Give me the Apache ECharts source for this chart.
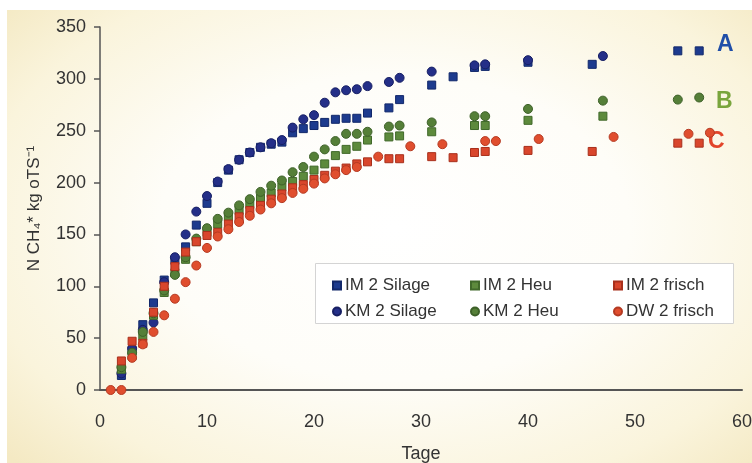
<!DOCTYPE html>
<html>
<head>
<meta charset="utf-8">
<script src="https://cdn.jsdelivr.net/npm/echarts@6/dist/echarts.min.js"></script>
<style>
  html, body { margin: 0; padding: 0; background: #fff; }
  #bg {
    position: absolute; left: 7px; top: 10px; width: 745px; height: 453px;
    background: radial-gradient(ellipse 70% 75% at 52% 48%, #ffffff 0%, #fefdf8 45%, #faf4dc 80%, #f4e9c3 100%);
  }
  #chart { position: absolute; left: 0; top: 0; width: 752px; height: 463px; }
</style>
</head>
<body>
<div id="bg"></div>
<div id="chart"></div>
<script>
// Tage / N CH4 per kg oTS
const imSilageDays = [2, 3, 4, 5, 6, 7, 8, 9, 10, 11, 12, 13, 14, 15, 16, 17, 18, 19, 20, 21, 22, 23, 24, 25, 27, 28, 31, 33, 35, 36, 40, 46, 54, 56]
const imSilageVals = [14, 38, 63, 84, 106, 125, 138, 159, 180, 200, 212, 222, 229, 234, 237, 239, 248, 252, 255, 258, 261, 262, 262, 267, 272, 280, 294, 302, 311, 312, 316, 314, 327, 327]

const kmSilageDays = [2, 3, 4, 5, 6, 7, 8, 9, 10, 11, 12, 13, 14, 15, 16, 17, 18, 19, 20, 21, 22, 23, 24, 25, 27, 28, 31, 35, 36, 40, 47]
const kmSilageVals = [16, 40, 58, 65, 104, 128, 150, 172, 187, 201, 213, 222, 229, 234, 238, 241, 253, 261, 265, 277, 287, 289, 290, 293, 297, 301, 307, 313, 314, 318, 322]

const imHeuDays = [2, 3, 4, 5, 6, 7, 8, 9, 10, 11, 12, 13, 14, 15, 16, 17, 18, 19, 20, 21, 22, 23, 24, 25, 27, 28, 31, 35, 36, 40, 47]
const imHeuVals = [20, 33, 52, 72, 94, 113, 126, 143, 152, 160, 167, 173, 179, 185, 190, 196, 201, 206, 212, 218, 226, 232, 235, 241, 244, 245, 249, 255, 255, 260, 264]

const kmHeuDays = [2, 3, 4, 5, 6, 7, 8, 9, 10, 11, 12, 13, 14, 15, 16, 17, 18, 19, 20, 21, 22, 23, 24, 25, 27, 28, 31, 35, 36, 40, 47, 54, 56]
const kmHeuVals = [22, 36, 56, 74, 96, 111, 128, 146, 156, 165, 171, 178, 184, 191, 197, 202, 210, 215, 225, 232, 240, 247, 247, 249, 254, 255, 258, 264, 264, 271, 279, 280, 282]

const imFrischDays = [2, 3, 4, 5, 6, 7, 8, 9, 10, 11, 12, 13, 14, 15, 16, 17, 18, 19, 20, 21, 22, 23, 24, 25, 27, 28, 31, 33, 35, 36, 40, 46, 54, 56]
const imFrischVals = [28, 47, 45, 75, 100, 119, 133, 143, 149, 152, 160, 167, 173, 178, 184, 189, 195, 198, 203, 207, 211, 214, 218, 220, 223, 223, 225, 224, 229, 230, 231, 230, 238, 238]

const dwFrischDays = [1, 2, 3, 4, 5, 6, 7, 8, 9, 10, 11, 12, 13, 14, 15, 16, 17, 18, 19, 20, 21, 22, 23, 24, 26, 29, 32, 36, 37, 41, 48, 55, 57]
const dwFrischVals = [0, 0, 31, 44, 56, 72, 88, 104, 120, 137, 148, 155, 162, 168, 174, 180, 185, 190, 194, 199, 204, 208, 212, 215, 225, 235, 237, 240, 240, 242, 244, 247, 248]

const xTicks = [0, 10, 20, 30, 40, 50, 60]
const yTicks = [0, 50, 100, 150, 200, 250, 300, 350]

const font = "'Liberation Sans', Arial, sans-serif"

function pairs(days, vals) {
  return days.map((d, i) => [d, vals[i]])
}

function scatter(name, days, vals, symbol, color, border) {
  return {
    name: name,
    type: 'scatter',
    symbol: symbol,
    symbolSize: symbol === 'rect' ? 8 : 9,
    data: pairs(days, vals),
    itemStyle: { color: color, borderColor: border, borderWidth: 1, opacity: 1 },
    emphasis: { disabled: true },
  }
}

function legendCol(left, names) {
  return {
    orient: 'vertical',
    left: left,
    top: 272,
    itemWidth: 8,
    itemHeight: 8,
    itemGap: 9,
    data: names,
    textStyle: { fontFamily: font, fontSize: 17, color: '#333', padding: [0, 0, 0, -1] },
  }
}

const chart = echarts.init(document.getElementById('chart'))
const option = {
  backgroundColor: 'transparent',
  animation: false,
  grid: { left: 100, right: 10, top: 27, bottom: 73, containLabel: false, outerBoundsMode: 'none' },
  legend: [
    legendCol(327, ['IM 2 Silage', 'KM 2 Silage']),
    legendCol(465, ['IM 2 Heu', 'KM 2 Heu']),
    legendCol(608, ['IM 2 frisch', 'DW 2 frisch']),
  ],
  graphic: [
    {
      type: 'rect', left: 315, top: 263, z: -1,
      shape: { width: 418, height: 60 },
      style: { fill: '#ffffff', stroke: '#d4d4d4', lineWidth: 1 },
    },
    { type: 'text', left: 717, top: 33, style: { text: 'A', fill: '#1f4ea8', font: 'bold 23px ' + font } },
    { type: 'text', left: 716, top: 90, style: { text: 'B', fill: '#79a53c', font: 'bold 23px ' + font } },
    { type: 'text', left: 708, top: 130, style: { text: 'C', fill: '#e2452a', font: 'bold 23px ' + font } },
  ],
  xAxis: {
    type: 'value',
    min: xTicks[0],
    max: xTicks[xTicks.length - 1],
    interval: 10,
    name: 'Tage',
    nameLocation: 'middle',
    nameGap: 55,
    nameTextStyle: { fontFamily: font, fontSize: 18, color: '#333' },
    axisLine: { show: true, lineStyle: { color: '#555', width: 2 } },
    axisTick: { show: false },
    splitLine: { show: false },
    axisLabel: { fontFamily: font, fontSize: 18, color: '#333', margin: 23 },
  },
  yAxis: {
    type: 'value',
    min: yTicks[0],
    max: yTicks[yTicks.length - 1],
    interval: 50,
    name: 'N CH₄* kg oTS⁻¹',
    nameLocation: 'middle',
    nameGap: 57,
    nameTextStyle: { fontFamily: font, fontSize: 17, color: '#333' },
    axisLine: { show: true, lineStyle: { color: '#555', width: 1.5 } },
    axisTick: { show: true, length: 6, lineStyle: { color: '#555', width: 1.5 } },
    splitLine: { show: false },
    axisLabel: { fontFamily: font, fontSize: 18, color: '#333', margin: 14 },
  },
  series: [
    scatter('IM 2 Silage', imSilageDays, imSilageVals, 'rect', '#1d3b8e', '#12286a'),
    scatter('KM 2 Silage', kmSilageDays, kmSilageVals, 'circle', '#242f88', '#171f63'),
    scatter('IM 2 Heu', imHeuDays, imHeuVals, 'rect', '#5d8a3c', '#41692a'),
    scatter('KM 2 Heu', kmHeuDays, kmHeuVals, 'circle', '#557f38', '#3d6028'),
    scatter('IM 2 frisch', imFrischDays, imFrischVals, 'rect', '#d9462c', '#a8301c'),
    scatter('DW 2 frisch', dwFrischDays, dwFrischVals, 'circle', '#e04e2e', '#b43a22'),
  ],
}
chart.setOption(option)
</script>
</body>
</html>
